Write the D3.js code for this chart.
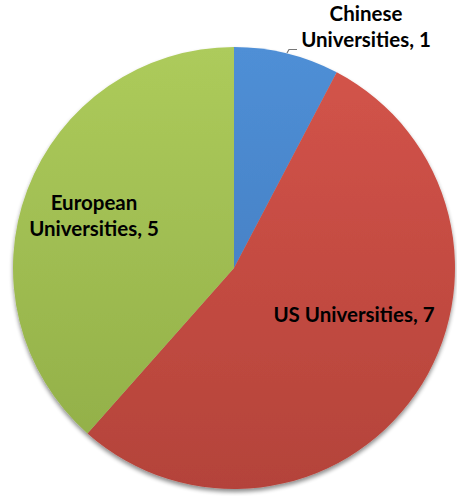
<!DOCTYPE html>
<html>
<head>
<meta charset="utf-8">
<script src="https://cdn.jsdelivr.net/npm/d3@7"></script>
<style>
  html, body { margin: 0; padding: 0; background: #fff; }
  svg { display: block; }
  text { font-family: Lato, "Open Sans", sans-serif; font-weight: bold; fill: #000; }
</style>
</head>
<body>
<svg id="chart" width="457" height="496"></svg>
<script>
// Universities by region
const categories = ["Chinese Universities", "US Universities", "European Universities"];
const values = [1, 7, 5];
const labelLines = [["Chinese", "Universities, 1"], ["US Universities, 7"], ["European", "Universities, 5"]];

// slice fills: top and bottom gradient stops
const topColors = ["#4f8fd6", "#d4544a", "#adcb5b"];
const bottomColors = ["#3f76b8", "#b4433a", "#90ad47"];

const width = 457, height = 496;
const cx = 234, cy = 268, radius = 221;

// label anchors (centre x, first baseline y), line spacing
const labelPos = [[366, 21], [354, 322], [94, 210]];
const lineGap = 26;

const svg = d3.select("#chart");
const defs = svg.append("defs");

// vertical gradient per slice, in the pie group's local coordinates
categories.forEach((c, i) => {
  const grad = defs.append("linearGradient")
    .attr("id", "grad" + i)
    .attr("gradientUnits", "userSpaceOnUse")
    .attr("x1", 0).attr("y1", -radius)
    .attr("x2", 0).attr("y2", radius);
  grad.append("stop").attr("offset", "0%").attr("stop-color", topColors[i]);
  grad.append("stop").attr("offset", "100%").attr("stop-color", bottomColors[i]);
});

// soft drop shadow under the pie
const shadow = defs.append("filter").attr("id", "shadow")
  .attr("x", "-10%").attr("y", "-10%").attr("width", "120%").attr("height", "120%");
shadow.append("feGaussianBlur").attr("in", "SourceAlpha").attr("stdDeviation", 2.2);
shadow.append("feOffset").attr("dx", 0).attr("dy", 2.5);
shadow.append("feComponentTransfer").append("feFuncA").attr("type", "linear").attr("slope", 0.45);
const merge = shadow.append("feMerge");
merge.append("feMergeNode");
merge.append("feMergeNode").attr("in", "SourceGraphic");

const pie = d3.pie().sort(null).value(d => d)
  .startAngle(0).endAngle(2 * Math.PI);
const arc = d3.arc().innerRadius(0).outerRadius(radius);

const arcs = pie(values);

svg.append("g")
  .attr("transform", `translate(${cx},${cy})`)
  .attr("filter", "url(#shadow)")
  .selectAll("path")
  .data(arcs)
  .join("path")
  .attr("d", arc)
  .attr("fill", (d, i) => `url(#grad${i})`);

// short leader for the Chinese slice label
svg.append("path")
  .attr("d", "M287,53 L289,49.5 L297,49.5")
  .attr("fill", "none")
  .attr("stroke", "#777")
  .attr("stroke-width", 1.2);

labelLines.forEach((lines, i) => {
  const t = svg.append("text")
    .attr("text-anchor", "middle")
    .attr("font-size", 20.5);
  lines.forEach((ln, j) => {
    t.append("tspan")
      .attr("x", labelPos[i][0])
      .attr("y", labelPos[i][1] + j * lineGap)
      .text(ln);
  });
});
</script>
</body>
</html>
